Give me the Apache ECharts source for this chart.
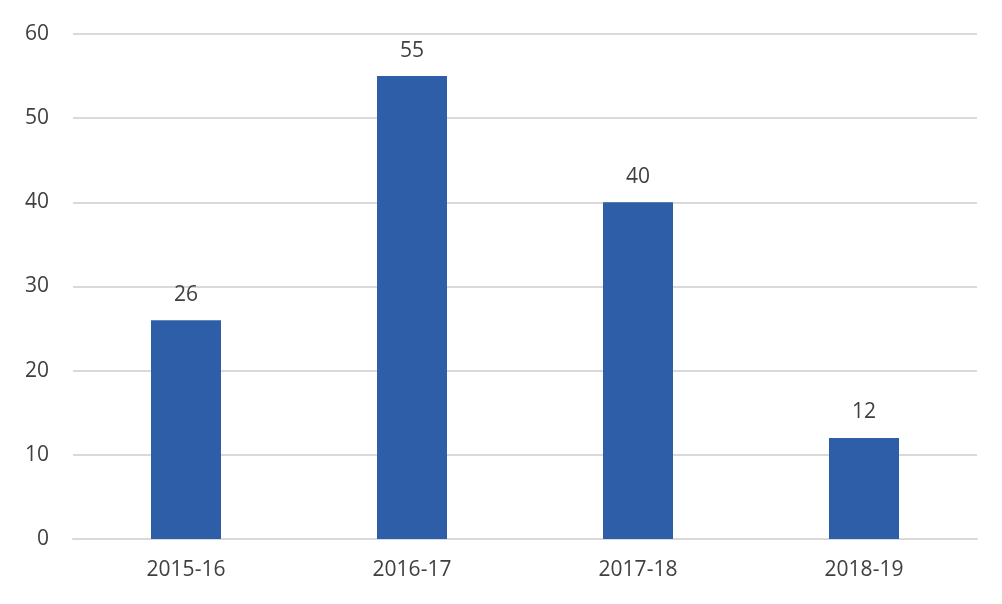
<!DOCTYPE html>
<html>
<head>
<meta charset="utf-8">
<script src="https://cdn.jsdelivr.net/npm/echarts@6/dist/echarts.min.js"></script>
<style>
  html, body { margin: 0; padding: 0; background: #fff; }
  #chart { width: 1002px; height: 604px; }
</style>
</head>
<body>
<div id="chart"></div>
<script>
  // Data
  const years = ['2015-16', '2016-17', '2017-18', '2018-19']
  const counts = [26, 55, 40, 12]
  const yTicks = { min: 0, max: 60, step: 10 }

  const font = '"Open Sans", "Noto Sans", sans-serif'
  const textColor = '#404040'

  const chart = echarts.init(document.getElementById('chart'), null, { renderer: 'canvas' })
  chart.setOption({
    animation: false,
    grid: { left: 73, right: 25, top: 34, bottom: 65, containLabel: false },
    xAxis: {
      type: 'category',
      data: years,
      axisLine: { lineStyle: { color: '#d9d9d9', width: 2 } },
      axisTick: { show: false },
      axisLabel: { color: textColor, fontFamily: font, fontSize: 21, margin: 21 },
    },
    yAxis: {
      type: 'value',
      min: yTicks.min, max: yTicks.max, interval: yTicks.step,
      axisLine: { show: false },
      axisTick: { show: false },
      axisLabel: { color: textColor, fontFamily: font, fontSize: 21, margin: 24 },
      splitLine: { lineStyle: { color: '#d9d9d9', width: 2 } },
    },
    series: [{
      type: 'bar',
      data: counts,
      barWidth: 70,
      itemStyle: { color: '#2e5ea8' },
      label: {
        show: true, position: 'top', distance: 15,
        color: textColor, fontFamily: font, fontSize: 21,
      },
    }],
  })
</script>
</body>
</html>
